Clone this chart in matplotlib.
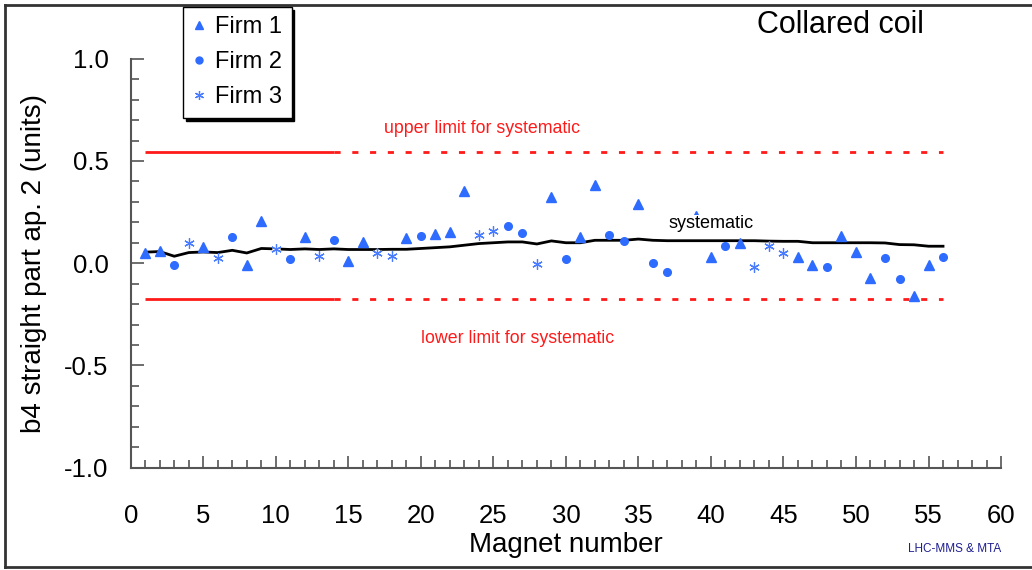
import numpy as np
import matplotlib.pyplot as plt
from matplotlib.lines import Line2D
from matplotlib.ticker import MultipleLocator, FuncFormatter

plt.rcParams['font.family'] = ['Liberation Sans', 'DejaVu Sans']

firm1_x = [1, 2, 5, 8, 9, 12, 15, 16, 19, 21, 22, 23, 29, 31, 32, 35, 38, 39, 40, 42, 46, 47, 49, 50, 51, 54, 55]
firm1_y = [0.05, 0.06, 0.077, -0.008, 0.208, 0.127, 0.011, 0.106, 0.122, 0.145, 0.151, 0.353, 0.325, 0.127,
           0.382, 0.291, 0.21, 0.232, 0.031, 0.098, 0.031, -0.01, 0.132, 0.055, -0.07, -0.16, -0.01]

firm2_x = [3, 7, 11, 14, 20, 26, 27, 30, 33, 34, 36, 37, 41, 48, 52, 53, 56]
firm2_y = [-0.01, 0.127, 0.02, 0.114, 0.132, 0.184, 0.148, 0.02, 0.14, 0.109, 0.003, -0.042, 0.085, -0.021,
           0.024, -0.077, 0.029]

firm3_x = [4, 6, 10, 13, 17, 18, 24, 25, 28, 43, 44, 45]
firm3_y = [0.10, 0.024, 0.067, 0.033, 0.05, 0.037, 0.14, 0.158, -0.002, -0.018, 0.083, 0.049]

syst_x = list(range(1, 57))
syst_y = [0.054, 0.057, 0.034, 0.052, 0.055, 0.052, 0.063, 0.05, 0.072, 0.07,
          0.067, 0.07, 0.067, 0.07, 0.067, 0.067, 0.067, 0.068, 0.068, 0.072,
          0.076, 0.08, 0.088, 0.096, 0.1, 0.104, 0.104, 0.094, 0.109, 0.1,
          0.1, 0.112, 0.112, 0.112, 0.118, 0.112, 0.11, 0.11, 0.11, 0.11,
          0.11, 0.11, 0.11, 0.108, 0.107, 0.107, 0.1, 0.1, 0.1, 0.1,
          0.1, 0.099, 0.091, 0.09, 0.083, 0.083]

upper_limit = 0.545
lower_limit = -0.175
solid_x = [1, 14]
dotted_x = [14, 56]

blue = '#2e6bff'
blue3 = '#4a7cff'
red = '#ff1a1a'

fig = plt.figure(figsize=(10.32, 5.70), dpi=100)
ax = fig.add_axes([0.1267, 0.1795, 0.8433, 0.7175])

# limits
for yv in (upper_limit, lower_limit):
    ax.plot(solid_x, [yv, yv], color=red, lw=2, solid_capstyle='butt')
    ax.plot(dotted_x, [yv, yv], color=red, lw=2, linestyle=(0, (2.2, 4.2)))

ax.plot(syst_x, syst_y, color='black', lw=2, zorder=3)

ax.plot(firm1_x, firm1_y, linestyle='none', marker='^', ms=6.5, color=blue, mec=blue, zorder=4)
ax.plot(firm2_x, firm2_y, linestyle='none', marker='o', ms=5.5, color=blue, mec=blue, zorder=4)
ax.plot(firm3_x, firm3_y, linestyle='none', marker='o', ms=6, color='white', mec='none', zorder=4)
ax.plot(firm3_x, firm3_y, linestyle='none', marker=(6, 2, 0), ms=7.5, color=blue3, mec=blue3, mew=0.9, zorder=5)

ax.text(24.2, 0.661, 'upper limit for systematic', color=red, fontsize=12.8, ha='center', va='center')
ax.text(26.7, -0.367, 'lower limit for systematic', color=red, fontsize=12.8, ha='center', va='center')
ax.text(40.0, 0.192, 'systematic', color='black', fontsize=13, ha='center', va='center', zorder=6,
        bbox=dict(facecolor='white', edgecolor='none', pad=0.5))

ax.set_xlim(0, 60)
ax.set_ylim(-1.0, 1.0)
ax.xaxis.set_major_locator(MultipleLocator(5))
ax.xaxis.set_minor_locator(MultipleLocator(1))
ax.yaxis.set_major_locator(MultipleLocator(0.5))
ax.yaxis.set_minor_locator(MultipleLocator(0.1))
ax.yaxis.set_major_formatter(FuncFormatter(lambda v, p: ('%.1f' % v).replace('\u2212', '-')))

for s in ('top', 'right'):
    ax.spines[s].set_visible(False)
for s in ('left', 'bottom'):
    ax.spines[s].set_color('#555555')
    ax.spines[s].set_linewidth(1.5)

ax.tick_params(which='major', direction='in', length=9, width=1.2, color='#555555', labelsize=18.5)
ax.tick_params(which='minor', direction='in', length=6, width=1.2, color='#555555')
ax.tick_params(axis='x', which='major', pad=26)
ax.tick_params(axis='y', which='major', pad=16)

ax.set_xlabel('Magnet number', fontsize=20, labelpad=3)
ax.set_ylabel('b4 straight part ap. 2 (units)', fontsize=20, labelpad=12)

handles = [
    Line2D([], [], linestyle='none', marker='^', ms=6, color=blue),
    Line2D([], [], linestyle='none', marker='o', ms=5, color=blue),
    Line2D([], [], linestyle='none', marker=(6, 2, 0), ms=6.5, color=blue3, mew=0.9),
]
leg = fig.legend(handles, ['Firm 1', 'Firm 2', 'Firm 3'], loc='upper left',
                 bbox_to_anchor=(183 / 1032, 1 - 7 / 570), fontsize=17, frameon=True,
                 fancybox=False, shadow={'color': 'black', 'alpha': 1.0}, handlelength=0.56,
                 handletextpad=0.4, labelspacing=0.55, borderpad=0.4, borderaxespad=0)
leg.get_frame().set_edgecolor('black')
leg.get_frame().set_linewidth(1.0)

fig.text(840 / 1032, 1 - 25 / 570, 'Collared coil', fontsize=22, ha='center', va='center')
fig.text(955 / 1032, 1 - 549 / 570, 'LHC-MMS & MTA', fontsize=8.5, color='#1f1f8f', ha='center', va='center')

# outer frame
for xs, ys in (([5, 1040], [5, 5]), ([5, 5], [5, 567]), ([5, 1040], [567, 567])):
    fig.add_artist(Line2D([x / 1032 for x in xs], [1 - y / 570 for y in ys],
                          transform=fig.transFigure, color='#333333', lw=2))

fig.savefig('out.png', dpi=100)
